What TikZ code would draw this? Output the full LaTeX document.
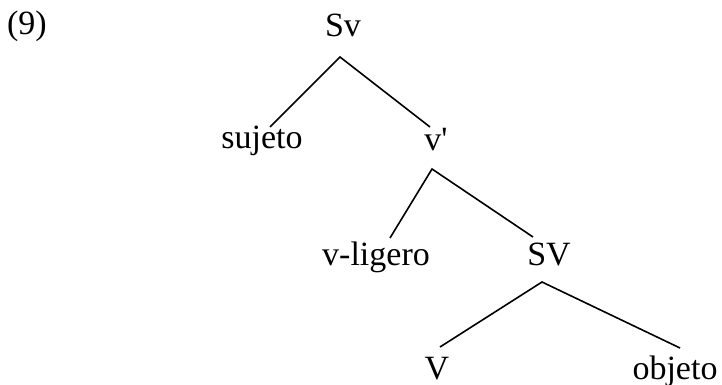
\documentclass[tikz,border=0pt]{standalone}
\usepackage{fontspec}
\setmainfont{Liberation Serif}[Ligatures=TeXOff]
\usetikzlibrary{calc}
\begin{document}
\begin{tikzpicture}[x=1pt,y=-1pt,
  lab/.style={anchor=base,inner sep=0pt,font=\fontsize{34}{40}\selectfont},
  edge/.style={line width=1.6pt,line join=miter}]
\useasboundingbox (0,0) rectangle (722,385);
\node[lab] (ex)   at (27,35)  {(9)};
\node[lab] (Sv)   at (343,37) {Sv};
\node[lab] (suj)  at (262,148) {sujeto};
\node[lab] (vbar) at (436,150) {v'};
\node[lab] (vlig) at (376,265) {v-ligero};
\node[lab] (SV)   at (549,265) {SV};
\node[lab] (V)    at (437,379) {V};
\node[lab] (obj)  at (675,379) {objeto};
\draw[edge] ($(suj.base)+(8,-21)$) -- ($(Sv.base)+(-3,20)$) -- ($(vbar.base)+(-6,-23)$);
\draw[edge] ($(vlig.base)+(14,-27)$) -- ($(vbar.base)+(-4,19)$) -- ($(SV.base)+(-16,-28)$);
\draw[edge] ($(V.base)+(3,-32)$) -- ($(SV.base)+(-7,17)$) -- ($(obj.base)+(5,-31)$);
\end{tikzpicture}
\end{document}
